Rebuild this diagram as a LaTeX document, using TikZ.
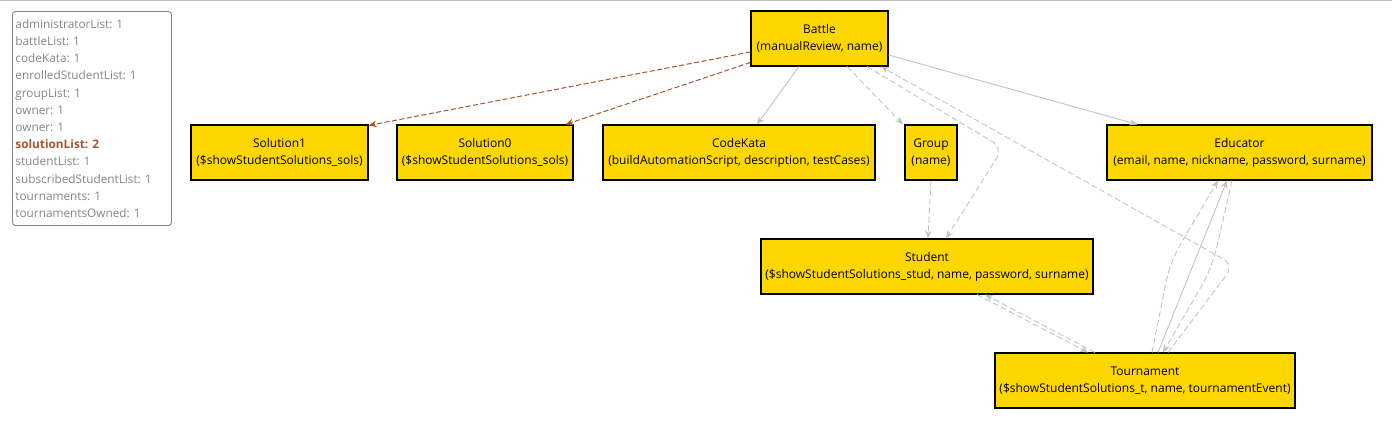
\documentclass[tikz,border=0pt]{standalone}
\usepackage{fontspec}
\setmainfont{Open Sans}
\usetikzlibrary{arrows.meta,calc}
\definecolor{nodefill}{HTML}{FFD700}
\definecolor{edgegray}{HTML}{C4C4C4}
\definecolor{edgebrown}{HTML}{A8552A}
\definecolor{legendgray}{HTML}{858585}
\frenchspacing
\begin{document}
\begin{tikzpicture}[x=1pt,y=-1pt,
  entity/.style={draw=black, line width=1.1pt, fill=nodefill, inner sep=0pt, align=center,
    minimum height=55pt, font=\fontsize{12}{17}\selectfont},
  arr/.style={-{Stealth[length=8pt,width=6.5pt]}},
  grayline/.style={arr, draw=edgegray, line width=0.9pt},
  graydash/.style={grayline, dash pattern=on 6pt off 3pt},
  browndash/.style={arr, draw=edgebrown, line width=1pt, dash pattern=on 5pt off 2.5pt},
  legendbox/.style={draw=legendgray, line width=0.9pt, rounded corners=3pt, inner xsep=3pt,
    text width=153pt, align=left, minimum height=214pt, text=legendgray,
    font=\fontsize{11.8}{17.2}\selectfont}
]
\useasboundingbox (0,0) rectangle (1392,423);
\draw[gray!50, line width=1pt] (0,0.5) -- (1392,0.5);

\node[legendbox, anchor=north west] (legend) at (12,11) {administratorList: 1\\ battleList: 1\\ codeKata: 1\\ enrolledStudentList: 1\\ groupList: 1\\ owner: 1\\ owner: 1\\ \textcolor{edgebrown}{\bfseries solutionList: 2}\\ studentList: 1\\ subscribedStudentList: 1\\ tournaments: 1\\ tournamentsOwned: 1};

\node[entity, minimum width=137pt] (battle) at (819.5,38.5) {Battle\\(manualReview, name)};
\node[entity, minimum width=177pt] (sol1) at (279.5,152.5) {Solution1\\(\$showStudentSolutions\_sols)};
\node[entity, minimum width=176pt] (sol0) at (485,152.5) {Solution0\\(\$showStudentSolutions\_sols)};
\node[entity, minimum width=272pt] (kata) at (739,152.5) {CodeKata\\(buildAutomationScript, description, testCases)};
\node[entity, minimum width=52pt] (group) at (931,152.5) {Group\\(name)};
\node[entity, minimum width=265pt] (edu) at (1239.5,152.5) {Educator\\(email, name, nickname, password, surname)};
\node[entity, minimum width=332pt] (stud) at (927,266.5) {Student\\(\$showStudentSolutions\_stud, name, password, surname)};
\node[entity, minimum width=300pt] (tour) at (1145,380.5) {Tournament\\(\$showStudentSolutions\_t, name, tournamentEvent)};

% Battle edges
\draw[browndash] ([yshift=-13.5pt]battle.west) -- ([yshift=-1pt]sol1.north east);
\draw[browndash] ([yshift=-24pt]battle.west) -- ([xshift=-8pt]sol0.north east);
\draw[grayline] ([xshift=-20.5pt]battle.south) -- ([xshift=18pt]kata.north);
\draw[graydash] ([xshift=27.5pt]battle.south) -- ([xshift=-28pt]group.north);
\draw[graydash, rounded corners=12pt] ([xshift=47.5pt]battle.south) -- (1003,148) -- ([xshift=19pt]stud.north);
\draw[grayline] ([yshift=-16.5pt]battle.east) -- ([xshift=31pt]edu.north west);
\draw[graydash, rounded corners=12pt] ([xshift=23pt]tour.north) -- (1234,265) -- ([xshift=61.5pt]battle.south);

% Group -> Student
\draw[graydash] (group.south) -- ([xshift=1pt]stud.north);

% Student <-> Tournament
\draw[graydash] ([xshift=50pt]stud.south) -- ([xshift=-57pt]tour.north);
\draw[graydash] ([xshift=-50pt]tour.north) -- ([xshift=58pt]stud.south);

% Tournament <-> Educator
\draw[graydash, rounded corners=20pt] ([xshift=7pt]tour.north) -- (1170,262) -- ([xshift=-21.5pt]edu.south);
\draw[grayline] ([xshift=13pt]tour.north) -- ([xshift=-12.5pt]edu.south);
\draw[graydash, rounded corners=20pt] ([xshift=-7.5pt]edu.south) -- (1212,268) -- ([xshift=18pt]tour.north);
\end{tikzpicture}
\end{document}
